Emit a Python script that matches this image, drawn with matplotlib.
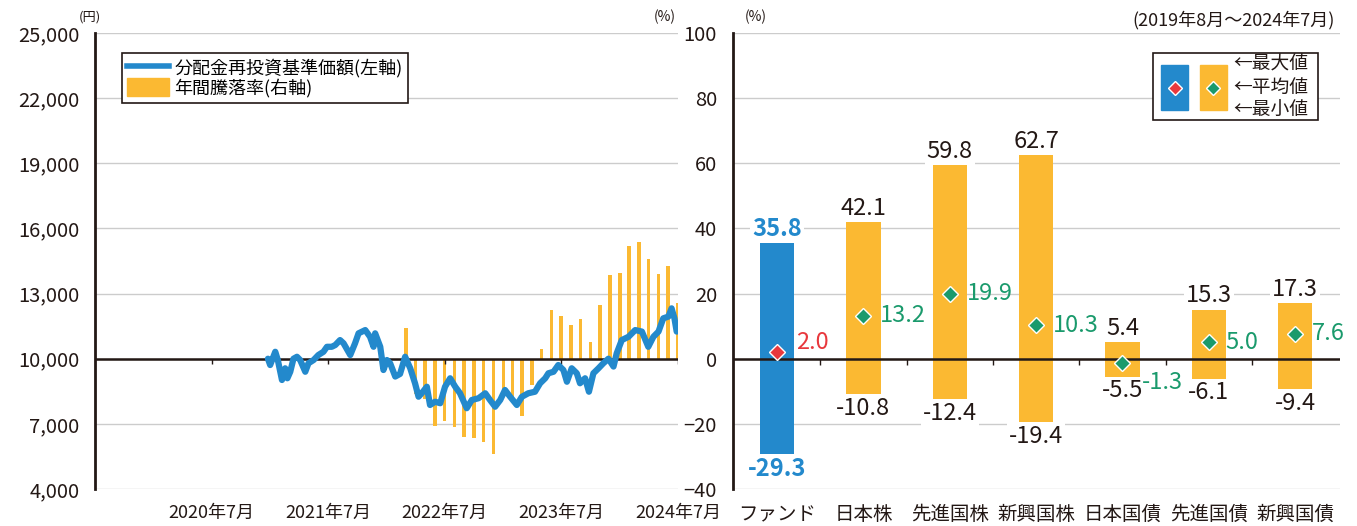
import matplotlib.pyplot as plt
import matplotlib.dates as mdates
from matplotlib.lines import Line2D
from matplotlib.patches import Patch, Rectangle
import pandas as pd
import numpy as np

plt.rcParams['font.family'] = ['Noto Sans CJK JP', 'DejaVu Sans']

BLUE = '#2389cc'
ORANGE = '#fbb932'
RED = '#e8383d'
GREEN = '#1a9a6c'
DARK = '#231815'
GRID = '#cccccc'

# 分配金再投資基準価額 (円)
line_dates = ['2021-01-23', '2021-01-30', '2021-02-15', '2021-02-23', '2021-03-08', '2021-03-18',
              '2021-03-25', '2021-04-03', '2021-04-13', '2021-04-24', '2021-05-04', '2021-05-20',
              '2021-05-30', '2021-06-15', '2021-06-30', '2021-07-16', '2021-07-27', '2021-08-11',
              '2021-08-22', '2021-09-06', '2021-09-17', '2021-10-08', '2021-10-23', '2021-11-03',
              '2021-11-24', '2021-12-09', '2021-12-20', '2021-12-25', '2022-01-10', '2022-01-20',
              '2022-01-31', '2022-02-10', '2022-02-26', '2022-03-13', '2022-03-29', '2022-04-14',
              '2022-04-29', '2022-05-10', '2022-05-20', '2022-06-05', '2022-06-15', '2022-07-01',
              '2022-07-17', '2022-08-01', '2022-08-17', '2022-09-02', '2022-09-17', '2022-10-08',
              '2022-10-24', '2022-11-14', '2022-12-05', '2022-12-20', '2023-01-05', '2023-01-21',
              '2023-02-05', '2023-02-21', '2023-03-14', '2023-03-30', '2023-04-19', '2023-05-10',
              '2023-05-26', '2023-06-11', '2023-06-21', '2023-07-07', '2023-07-22', '2023-08-07',
              '2023-08-18', '2023-09-02', '2023-09-18', '2023-09-28', '2023-10-14', '2023-10-26',
              '2023-11-09', '2023-11-25', '2023-12-10', '2023-12-26', '2024-01-11', '2024-01-21',
              '2024-02-06', '2024-02-27', '2024-03-19', '2024-04-09', '2024-04-29', '2024-05-15',
              '2024-05-31', '2024-06-15', '2024-07-01', '2024-07-11', '2024-07-20', '2024-07-27']
line_values = [10000, 9710, 10320, 9940, 9020, 9560,
               9100, 9400, 10000, 10090, 9940, 9400,
               9790, 9940, 10170, 10320, 10550, 10550,
               10630, 10860, 10710, 10170, 10710, 11170,
               11320, 11010, 10550, 11170, 10550, 9480,
               9940, 9790, 9180, 9300, 10090, 9560,
               8870, 8250, 8410, 8710, 7870, 8020,
               7950, 8710, 9100, 8710, 8410, 7720,
               8100, 8180, 8410, 8100, 7790, 8100,
               8560, 8250, 7870, 8250, 8410, 8480,
               8870, 9100, 9330, 9400, 9710, 9480,
               8940, 9560, 9330, 8870, 9100, 8480,
               9330, 9560, 9790, 10000, 9640, 10250,
               10860, 11010, 11320, 11250, 10550, 11010,
               11250, 11860, 11940, 12320, 11860, 11250]

# 年間騰落率 (%) 月次
bar_months = pd.date_range('2022-03-31', '2024-07-31', freq='ME')
bar_values = [9.3, -10.7, -12.5, -20.7, -19.0, -20.9, -23.9, -24.4, -25.5, -29.3,
              -11.0, -12.0, -17.6, -8.1, 3.0, 15.0, 13.1, 10.3, 12.1, 5.2,
              16.5, 25.7, 26.4, 34.6, 35.8, 30.5, 26.0, 28.5, 17.2]

# 右図: 騰落率の比較
categories = ['ファンド', '日本株', '先進国株', '新興国株', '日本国債', '先進国債', '新興国債']
max_values = [35.8, 42.1, 59.8, 62.7, 5.4, 15.3, 17.3]
min_values = [-29.3, -10.8, -12.4, -19.4, -5.5, -6.1, -9.4]
avg_values = [2.0, 13.2, 19.9, 10.3, -1.3, 5.0, 7.6]

year_ticks = pd.to_datetime(['2020-07-31', '2021-07-31', '2022-07-31', '2023-07-31', '2024-07-31'])
year_labels = ['2020年7月', '2021年7月', '2022年7月', '2023年7月', '2024年7月']

fig = plt.figure(figsize=(13.57, 5.26), dpi=100)

# ---- 左図 ----
ax = fig.add_axes([0.070, 0.0703, 0.4296, 0.867])
ax2 = ax.twinx()
ax.set_zorder(ax2.get_zorder() + 1)
ax.patch.set_visible(False)

ax2.set_ylim(-40, 100)
ax2.set_yticks(range(-40, 101, 20))
ax2.grid(axis='y', color=GRID, lw=1)
ax2.set_axisbelow(True)
ax2.bar(bar_months, bar_values, width=11, color=ORANGE, zorder=2)
ax2.axhline(0, color=DARK, lw=1.8, zorder=3)
ax2.vlines(year_ticks, -1.6, 0, color=DARK, lw=1, zorder=3)
ax2.tick_params(axis='y', length=0, labelright=False)
for s in ax2.spines.values():
    s.set_visible(False)

ax.plot(pd.to_datetime(line_dates), line_values, color=BLUE, lw=4.5,
        solid_capstyle='round', solid_joinstyle='round')
ax.set_ylim(4000, 25000)
ax.set_yticks(range(4000, 25001, 3000))
ax.set_yticklabels([f'{v:,}' for v in range(4000, 25001, 3000)])
ax.set_xlim(pd.Timestamp('2019-07-31'), pd.Timestamp('2024-07-31'))
ax.set_xticks(year_ticks)
ax.set_xticklabels(year_labels)
ax.tick_params(axis='y', length=0, pad=11, labelsize=14.5, labelcolor=DARK)
ax.tick_params(axis='x', length=0, pad=11, labelsize=13, labelcolor=DARK)
for k in ['top', 'right', 'bottom']:
    ax.spines[k].set_visible(False)
ax.spines['left'].set_color(DARK)
ax.spines['left'].set_linewidth(2)

handles = [Line2D([0], [0], color=BLUE, lw=4), Patch(color=ORANGE)]
leg = ax.legend(handles, ['分配金再投資基準価額(左軸)', '年間騰落率(右軸)'],
                loc='upper left', bbox_to_anchor=(0.046, 0.956), borderaxespad=0,
                fontsize=13, fancybox=False, framealpha=1, edgecolor=DARK,
                handlelength=2.3, handleheight=1.1, handletextpad=0.3,
                labelspacing=0.05, borderpad=0.3)
leg.get_frame().set_linewidth(1.2)

ax.text(-0.009, 1.035, '(円)', transform=ax.transAxes, ha='center', va='center',
        fontsize=9.5, color=DARK)
ax.text(0.978, 1.035, '(%)', transform=ax.transAxes, ha='center', va='center',
        fontsize=10, color=DARK)

# ---- 右図 ----
axr = fig.add_axes([0.5402, 0.0703, 0.4473, 0.867])
x = np.arange(len(categories))
axr.set_ylim(-40, 100)
axr.set_yticks(range(-40, 101, 20))
axr.set_xlim(-0.51, 6.52)
axr.grid(axis='y', color=GRID, lw=1)
axr.set_axisbelow(True)
heights = [mx - mn for mx, mn in zip(max_values, min_values)]
colors = [BLUE] + [ORANGE] * (len(categories) - 1)
axr.bar(x, heights, bottom=min_values, width=0.4, color=colors, zorder=2)
axr.axhline(0, color=DARK, lw=1.8, zorder=3)
axr.vlines(x[:-1] + 0.5, -1.8, 0, color=DARK, lw=1, zorder=3)
marker_colors = [RED] + [GREEN] * (len(categories) - 1)
for i in x:
    axr.plot(i, avg_values[i], marker='D', ms=8.5, color=marker_colors[i],
             mec='white', mew=1, zorder=4)

box = dict(facecolor='white', edgecolor='none', pad=1.5)
for i in x:
    c = BLUE if i == 0 else DARK
    w = 'bold' if i == 0 else 'normal'
    axr.annotate(f'{max_values[i]:.1f}', (i, max_values[i]), xytext=(0, 1),
                 textcoords='offset points', ha='center', va='bottom',
                 fontsize=17, color=c, fontweight=w, bbox=box, zorder=5)
    axr.annotate(f'{min_values[i]:.1f}', (i, min_values[i]), xytext=(0, -2),
                 textcoords='offset points', ha='center', va='top',
                 fontsize=17, color=c, fontweight=w, bbox=box, zorder=5)
avg_offsets = [(14, 7), (12, 0), (12, 0), (12, 0), (14, -14), (12, 0), (12, 0)]
for i in x:
    axr.annotate(f'{avg_values[i]:.1f}', (i, avg_values[i]), xytext=avg_offsets[i],
                 textcoords='offset points', ha='left', va='center',
                 fontsize=17, color=marker_colors[i], zorder=5)

axr.set_xticks(x)
axr.set_xticklabels(categories)
axr.tick_params(axis='x', length=0, pad=11, labelsize=14, labelcolor=DARK)
axr.tick_params(axis='y', length=0, pad=11.5, labelsize=14.5, labelcolor=DARK)
for k in ['top', 'right', 'bottom']:
    axr.spines[k].set_visible(False)
axr.spines['left'].set_color(DARK)
axr.spines['left'].set_linewidth(2)

axr.text(0.038, 1.035, '(%)', transform=axr.transAxes, ha='center', va='center',
         fontsize=10, color=DARK)
axr.text(0.992, 1.028, '(2019年8月～2024年7月)', transform=axr.transAxes,
         ha='right', va='center', fontsize=13, color=DARK)

# 右図の凡例
T = axr.transAxes
axr.add_patch(Rectangle((0.692, 0.809), 0.272, 0.147, transform=T, facecolor='white',
                        edgecolor=DARK, lw=1.2, zorder=6, clip_on=False))
axr.add_patch(Rectangle((0.705, 0.831), 0.045, 0.099, transform=T, color=BLUE,
                        zorder=7, clip_on=False))
axr.add_patch(Rectangle((0.769, 0.831), 0.045, 0.099, transform=T, color=ORANGE,
                        zorder=7, clip_on=False))
axr.plot(0.7275, 0.879, marker='D', ms=7, color=RED, mec='white', mew=1,
         transform=T, zorder=8, clip_on=False)
axr.plot(0.7915, 0.879, marker='D', ms=7, color=GREEN, mec='white', mew=1,
         transform=T, zorder=8, clip_on=False)
for yy, s in zip([0.932, 0.880, 0.829], ['←最大値', '←平均値', '←最小値']):
    axr.text(0.824, yy, s, transform=T, ha='left', va='center', fontsize=13.5,
             color=DARK, zorder=8)

fig.savefig('out.png', dpi=100, facecolor='white')
